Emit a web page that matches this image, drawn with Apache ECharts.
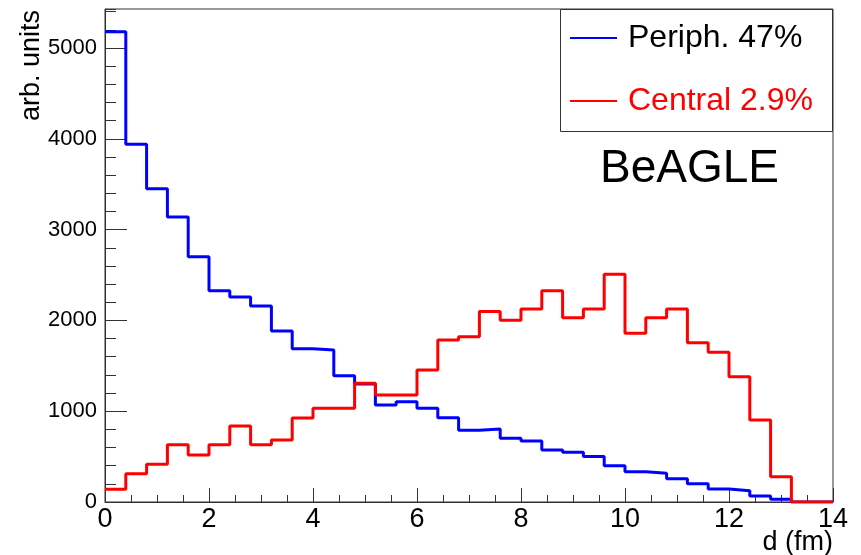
<!DOCTYPE html>
<html>
<head>
<meta charset="utf-8">
<script src="https://cdn.jsdelivr.net/npm/echarts@6/dist/echarts.min.js"></script>
<style>
html,body{margin:0;padding:0;background:#fff;}
#chart{width:861px;height:555px;}
</style>
</head>
<body>
<div id="chart"></div>
<script>
// ---- data ----
var binWidth = 0.4;          // fm
var xMin = 0, xMax = 14;
var yMax = 5430;
var periphLabel = 'Periph. 47%';
var centralLabel = 'Central 2.9%';
var periph = [5180, 3940, 3450, 3140, 2700, 2327, 2258, 2158, 1883, 1688, 1674, 1391, 1300, 1068, 1105, 1032, 929, 790, 804, 701, 672, 573, 547, 502, 400, 334, 316, 257, 202, 143, 125, 66, 30, 0, 0];
var central = [140, 312, 415, 631, 518, 631, 837, 631, 683, 925, 1032, 1032, 1307, 1178, 1178, 1454, 1784, 1821, 2097, 2001, 2125, 2327, 2030, 2125, 2508, 1858, 2030, 2125, 1755, 1649, 1380, 903, 279, 0, 0];
var xTitle = 'd (fm)';
var yTitle = 'arb. units';
var tag = 'BeAGLE';

function toSteps(vals) {
  var pts = vals.map(function (v, i) { return [+(i * binWidth).toFixed(3), v]; });
  pts.push([+(vals.length * binWidth).toFixed(3), vals[vals.length - 1]]);
  return pts;
}

var FONT = 'Liberation Sans, Arial, Helvetica, sans-serif';
var AX = '#333';
var chart = echarts.init(document.getElementById('chart'), null, {renderer: 'canvas'});
chart.setOption({
  animation: false,
  backgroundColor: '#fff',
  textStyle: {fontFamily: FONT},
  grid: {left: 105, right: 28, top: 9, bottom: 53, show: true, borderColor: AX, borderWidth: 1, backgroundColor: 'transparent'},
  xAxis: {
    type: 'value', min: xMin, max: xMax, interval: 2,
    axisLine: {show: true, onZero: false, lineStyle: {color: AX, width: 1}},
    axisTick: {show: true, inside: true, length: 14, lineStyle: {color: AX}},
    minorTick: {show: true, splitNumber: 4, length: 7, lineStyle: {color: AX}},
    splitLine: {show: false},
    axisLabel: {color: '#000', fontSize: 27, fontFamily: FONT, margin: 4}
  },
  yAxis: [{
    type: 'value', min: 0, max: yMax, interval: 1000,
    axisLine: {show: true, onZero: false, lineStyle: {color: AX, width: 1}},
    axisTick: {show: true, inside: true, length: 22, lineStyle: {color: AX}},
    splitLine: {show: false},
    axisLabel: {color: '#000', fontSize: 22, fontFamily: FONT, margin: 8, showMaxLabel: false,
                formatter: function (v) { return String(v); }}
  }, {
    type: 'value', min: 0, max: yMax, interval: 200, position: 'left',
    axisLine: {show: false},
    axisTick: {show: true, inside: true, length: 11, lineStyle: {color: AX}},
    splitLine: {show: false},
    axisLabel: {show: false}
  }],
  legend: {
    orient: 'vertical', left: 570, top: 22, padding: 0,
    itemWidth: 47, itemHeight: 2, itemGap: 31,
    selectedMode: false,
    icon: 'rect',
    textStyle: {fontSize: 32, fontFamily: FONT, lineHeight: 31, padding: [0, 0, 0, 6]},
    data: [
      {name: periphLabel, textStyle: {color: '#000'}},
      {name: centralLabel, textStyle: {color: '#f00'}}
    ]
  },
  series: [
    {name: periphLabel, type: 'line', step: 'end', symbol: 'none', data: toSteps(periph),
     lineStyle: {color: '#0000ff', width: 3}, itemStyle: {color: '#0000ff'}, clip: true},
    {name: centralLabel, type: 'line', step: 'end', symbol: 'none', data: toSteps(central),
     lineStyle: {color: '#ff0000', width: 3}, itemStyle: {color: '#ff0000'}, clip: true}
  ],
  graphic: [
    {type: 'rect', shape: {x: 560.5, y: 9.5, width: 272, height: 122}, style: {fill: 'none', stroke: AX, lineWidth: 1}, z: 10},
    {type: 'text', x: 600, y: 169, style: {text: tag, fontSize: 46, fontFamily: FONT, fill: '#000', align: 'left', verticalAlign: 'middle'}, z: 10},
    {type: 'text', x: 32, y: 10, rotation: Math.PI / 2, style: {text: yTitle, fontSize: 27, fontFamily: FONT, fill: '#000', align: 'right', verticalAlign: 'middle'}, z: 10},
    {type: 'text', x: 833, y: 543, style: {text: xTitle, fontSize: 27, fontFamily: FONT, fill: '#000', align: 'right', verticalAlign: 'middle'}, z: 10}
  ]
});
</script>
</body>
</html>
